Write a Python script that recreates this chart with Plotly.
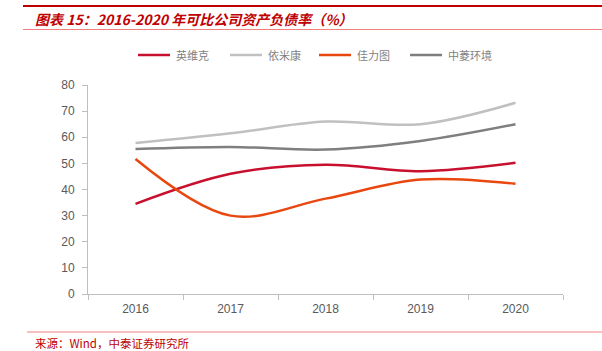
import plotly.graph_objects as go

years = ["2016", "2017", "2018", "2019", "2020"]
yingweike = [34.5, 46.0, 49.5, 47.0, 50.2]
yimikang = [57.8, 61.5, 66.0, 65.0, 73.2]
jialitu = [51.7, 30.0, 36.5, 43.8, 42.2]
zhongling = [55.5, 56.3, 55.3, 58.6, 65.0]

names = ["英维克", "依米康", "佳力图", "中菱环境"]
colors = ["#C8102E", "#C0C0C0", "#E8470F", "#7F7F7F"]
values = [yingweike, yimikang, jialitu, zhongling]
legend_x = [138, 230, 319, 410]  # legend key left edges (px)

W, H = 602, 351
L, R, T, B = 88, 39, 85, 57
PW, PH = W - L - R, H - T - B


def px(x):
    return (x - L) / PW


def py(y):
    return (H - B - y) / PH


fig = go.Figure()
for name, vals, color in zip(names, values, colors):
    fig.add_trace(go.Scatter(
        x=years, y=vals, name=name, mode="lines",
        line=dict(color=color, width=2.5, shape="spline", smoothing=1.0),
    ))

font_cn = "Noto Sans CJK SC"
annotations = [
    dict(text="<b><i>图表 15：2016-2020 年可比公司资产负债率（%）</i></b>",
         xref="paper", yref="paper", x=px(33), y=py(19),
         xanchor="left", yanchor="middle", showarrow=False,
         font=dict(family=font_cn, size=14, color="#C00000")),
    dict(text="来源：Wind，中泰证券研究所",
         xref="paper", yref="paper", x=px(33), y=py(342.5),
         xanchor="left", yanchor="middle", showarrow=False,
         font=dict(family=font_cn, size=11.5, color="#C00000")),
]
shapes = [
    dict(type="line", xref="paper", yref="paper", x0=px(23), x1=px(602),
         y0=py(6), y1=py(6), line=dict(color="#C00000", width=2)),
    dict(type="line", xref="paper", yref="paper", x0=px(23), x1=px(602),
         y0=py(29.5), y1=py(29.5), line=dict(color="#F08080", width=1)),
    dict(type="line", xref="paper", yref="paper", x0=px(27), x1=px(602),
         y0=py(332), y1=py(332), line=dict(color="#F08080", width=1)),
]
for name, color, lx in zip(names, colors, legend_x):
    shapes.append(dict(type="line", xref="paper", yref="paper", x0=px(lx), x1=px(lx + 32),
                       y0=py(55), y1=py(55), line=dict(color=color, width=2.5)))
    annotations.append(dict(text=name, xref="paper", yref="paper", x=px(lx + 36), y=py(55),
                            xanchor="left", yanchor="middle", showarrow=False,
                            font=dict(family=font_cn, size=11, color="#7F7F7F")))

fig.update_layout(
    width=W, height=H,
    margin=dict(l=L, r=R, t=T, b=B),
    paper_bgcolor="white", plot_bgcolor="white",
    showlegend=False,
    xaxis=dict(type="category", range=[-0.5, 4.5], showgrid=False, showline=True,
               linecolor="#BFBFBF", linewidth=1, ticks="outside", tickcolor="#BFBFBF",
               ticklen=5, tickson="boundaries", ticklabelstandoff=4,
               tickfont=dict(family="Liberation Sans", size=12, color="#595959")),
    yaxis=dict(range=[0, 80], dtick=10, showgrid=False, showline=True, linecolor="#BFBFBF",
               linewidth=1, ticks="outside", tickcolor="#BFBFBF", ticklen=5,
               zeroline=False, ticklabelstandoff=5,
               tickfont=dict(family="Liberation Sans", size=12, color="#595959")),
    annotations=annotations,
    shapes=shapes,
)

fig.write_html("out.html")
